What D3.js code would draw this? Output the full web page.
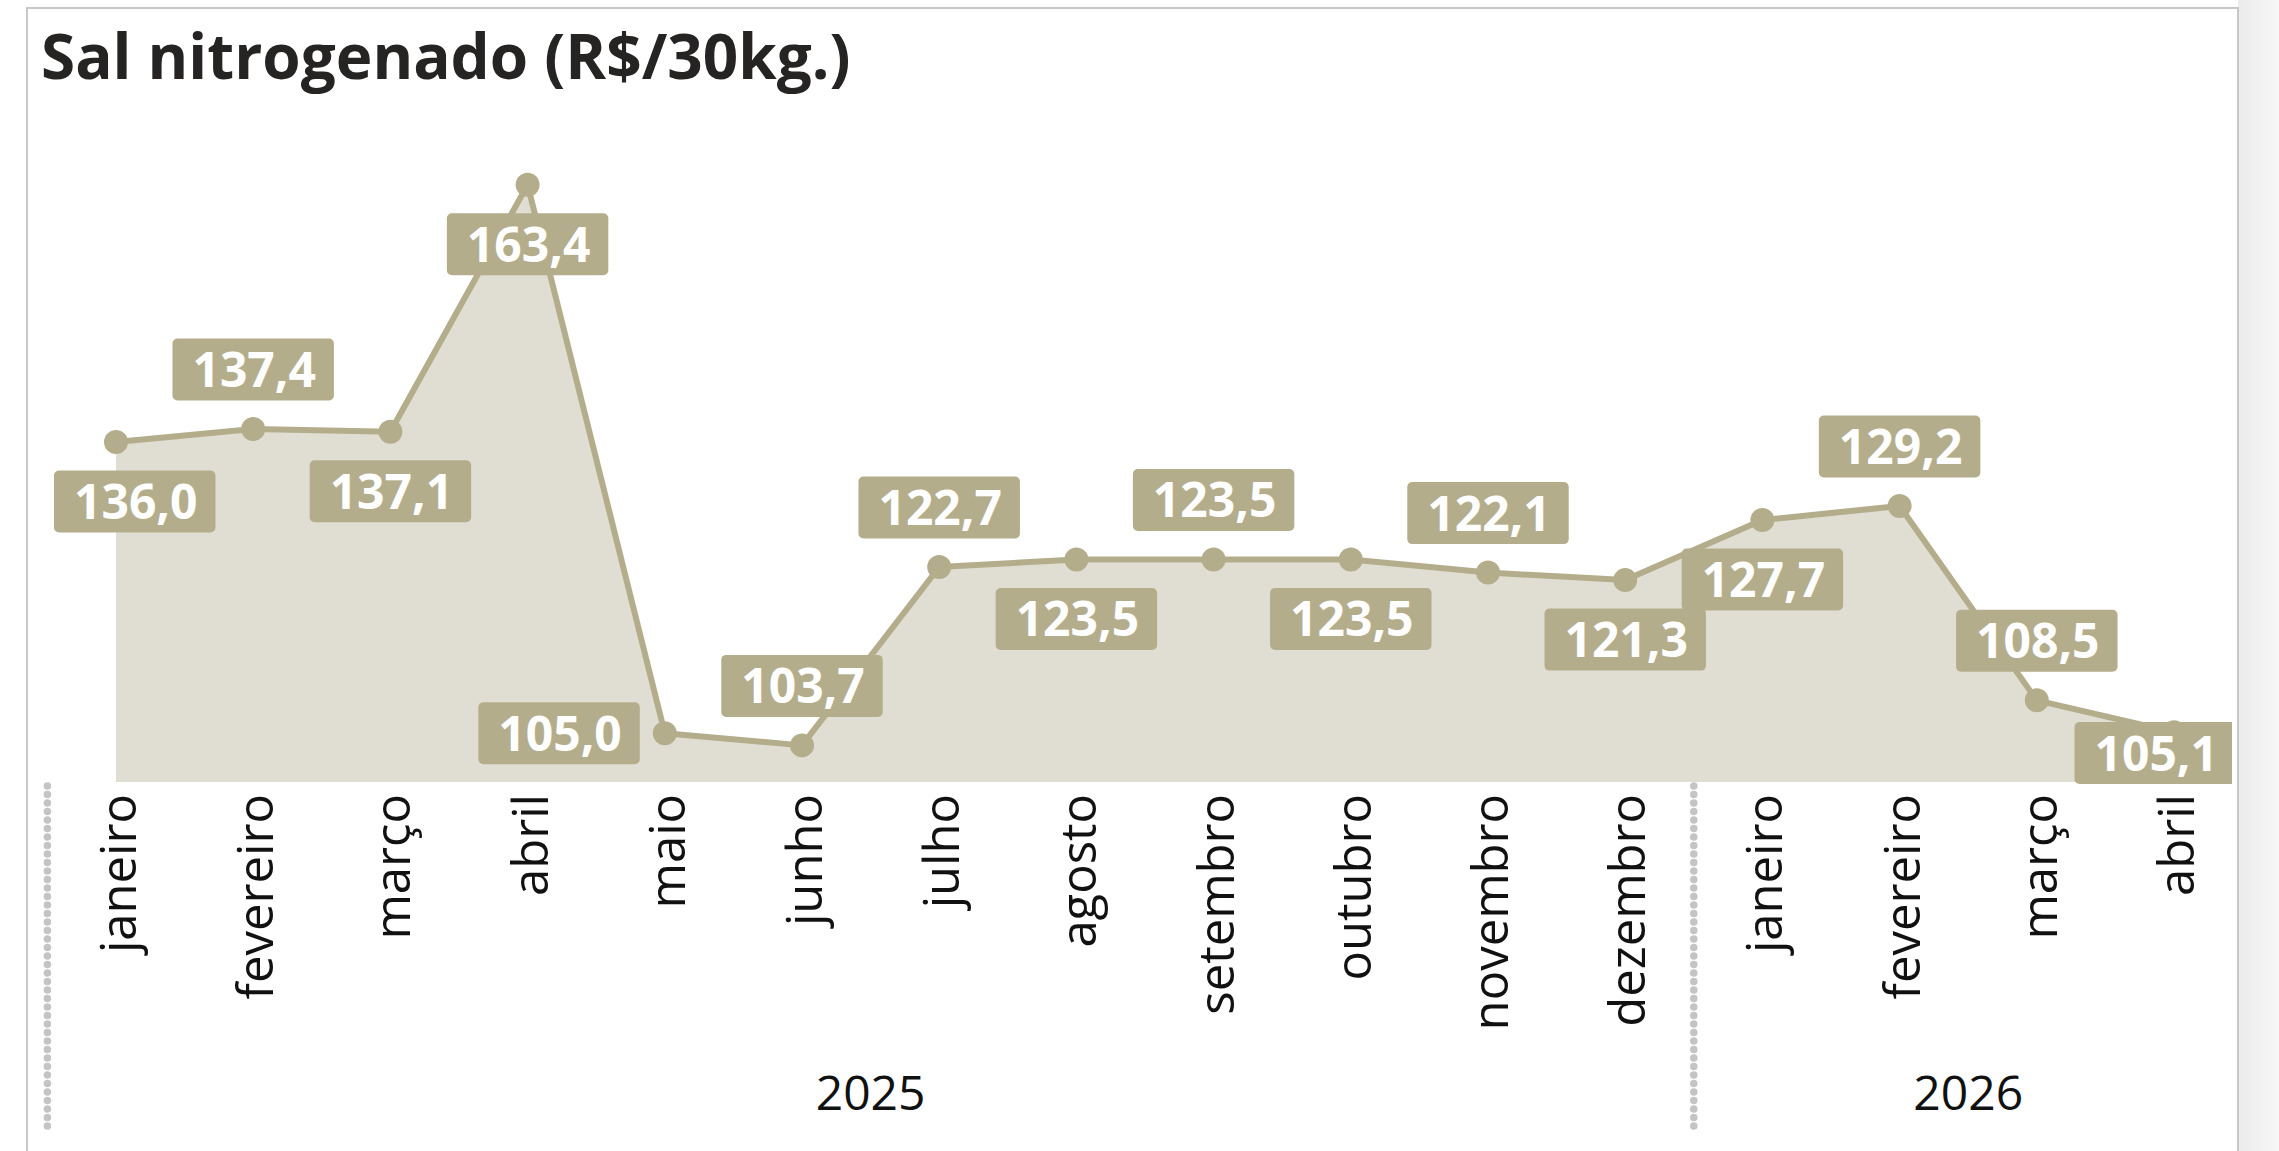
<!DOCTYPE html>
<html lang="pt-BR">
<head>
<meta charset="utf-8">
<title>Sal nitrogenado (R$/30kg.)</title>
<script src="https://cdn.jsdelivr.net/npm/d3@7"></script>
<style>
  html, body { margin: 0; padding: 0; background: #ffffff; }
  svg { display: block; }
</style>
</head>
<body>
<svg id="chart" width="2279" height="1151"></svg>
<script>
// Monthly price series, R$ per 30 kg bag
const months = ["janeiro", "fevereiro", "março", "abril", "maio", "junho", "julho", "agosto",
                "setembro", "outubro", "novembro", "dezembro", "janeiro", "fevereiro", "março", "abril"];
const years = ["2025", "2025", "2025", "2025", "2025", "2025", "2025", "2025",
               "2025", "2025", "2025", "2025", "2026", "2026", "2026", "2026"];
const prices = [136.0, 137.4, 137.1, 163.4, 105.0, 103.7, 122.7, 123.5,
                123.5, 123.5, 122.1, 121.3, 127.7, 129.2, 108.5, 105.1];
const yearLabels = ["2025", "2026"];
const chartTitle = "Sal nitrogenado (R$/30kg.)";

// ---- layout ----
const W = 2279, H = 1151;
const panel = { left: 27, top: 8, right: 2238 };
const plot = { left: 47.4, right: 2242.6, top: 184.8, bottom: 782, labelLeft: 54, clipRight: 2232 };
const colors = {
  line: "#b4ad8c",
  area: "#e0ded2",
  border: "#c8c8c8",
  text: "#111111",
  title: "#252423"
};

const ptBR = d3.formatLocale({ decimal: ",", thousands: ".", grouping: [3], currency: ["R$", ""] });
const fmt = ptBR.format(".1f");

const svg = d3.select("#chart");

// right-hand page shadow beyond the panel
const defs = svg.append("defs");
const grad = defs.append("linearGradient").attr("id", "sideShade").attr("x1", 0).attr("x2", 1);
grad.append("stop").attr("offset", 0).attr("stop-color", "#ebebeb");
grad.append("stop").attr("offset", 1).attr("stop-color", "#f7f7f7");
defs.append("clipPath").attr("id", "plotClip")
  .append("rect").attr("x", 0).attr("y", 0).attr("width", plot.clipRight).attr("height", H);

svg.append("rect").attr("x", panel.right).attr("y", 0)
  .attr("width", W - panel.right).attr("height", H).attr("fill", "url(#sideShade)");

// panel frame
svg.append("rect").attr("x", panel.left).attr("y", panel.top)
  .attr("width", panel.right - panel.left).attr("height", H + 10)
  .attr("fill", "#ffffff").attr("stroke", colors.border).attr("stroke-width", 2);

// title
svg.append("text")
  .attr("x", 41).attr("y", 79)
  .attr("font-family", "'Open Sans', 'Noto Sans', sans-serif")
  .attr("font-weight", 700).attr("font-size", 62)
  .attr("fill", colors.title)
  .text(chartTitle);

// ---- scales ----
const idx = d3.range(prices.length);
const x = d3.scaleBand().domain(idx).range([plot.left, plot.right]).paddingInner(0).paddingOuter(0);
const cx = i => x(i) + x.bandwidth() / 2;
const y = d3.scaleLinear().domain([99.8, 163.4]).range([plot.bottom, plot.top]);

const g = svg.append("g");

// area under the series
const area = d3.area().x((d, i) => cx(i)).y0(plot.bottom).y1(d => y(d));
g.append("path").datum(prices).attr("d", area).attr("fill", colors.area);

// line and markers
const line = d3.line().x((d, i) => cx(i)).y(d => y(d));
g.append("path").datum(prices).attr("d", line)
  .attr("fill", "none").attr("stroke", colors.line)
  .attr("stroke-width", 6).attr("stroke-linejoin", "round");

g.selectAll("circle.pt").data(prices).join("circle")
  .attr("class", "pt")
  .attr("cx", (d, i) => cx(i)).attr("cy", d => y(d))
  .attr("r", 12).attr("fill", colors.line);

// ---- data labels ----
// side of each label relative to its marker
const labelSide = ["below", "above", "below", "below", "left", "above", "above", "below",
                   "above", "below", "above", "below", "below", "above", "above", "below"];
const boxH = 62, gap = 28.5, padX = 19;

const labels = g.append("g").attr("clip-path", "url(#plotClip)");
prices.forEach((v, i) => {
  const px = cx(i), py = y(v);
  const lg = labels.append("g");
  const rect = lg.append("rect").attr("rx", 5).attr("ry", 5).attr("fill", colors.line);
  const t = lg.append("text")
    .attr("font-family", "'Open Sans', 'Noto Sans', sans-serif")
    .attr("font-weight", 700).attr("font-size", 48)
    .attr("fill", "#ffffff").attr("text-anchor", "middle")
    .text(fmt(v));
  const tw = t.node().getComputedTextLength();
  const bw = tw + 2 * padX;
  let bx, by;
  const side = labelSide[i];
  if (side === "above") { bx = px - bw / 2; by = py - gap - boxH; }
  else if (side === "below") { bx = px - bw / 2; by = py + gap; }
  else { bx = px - 25 - bw; by = py - boxH / 2; }
  // keep labels inside the plot area
  if (by + boxH > plot.bottom + 2) by = plot.bottom + 2 - boxH;
  if (bx < plot.labelLeft) bx = plot.labelLeft;
  if (bx + bw > plot.clipRight + 4) bx = plot.clipRight + 4 - bw;
  rect.attr("x", bx).attr("y", by).attr("width", bw).attr("height", boxH);
  t.attr("x", bx + bw / 2 + 1).attr("y", by + 48.5);
});

// ---- category axis ----
const axisG = svg.append("g");
axisG.selectAll("text.month").data(months).join("text")
  .attr("class", "month")
  .attr("transform", (d, i) => `translate(${cx(i) + 20},794) rotate(-90)`)
  .attr("text-anchor", "end")
  .attr("font-family", "'Open Sans', 'Noto Sans', sans-serif")
  .attr("font-size", 49)
  .attr("fill", colors.text)
  .text(d => d);

// year groups and dotted separators
const groups = yearLabels.map(yr => {
  const ids = idx.filter(i => years[i] === yr);
  return { yr, first: d3.min(ids), last: d3.max(ids) };
});
axisG.selectAll("text.year").data(groups).join("text")
  .attr("class", "year")
  .attr("x", d => (cx(d.first) + cx(d.last)) / 2)
  .attr("y", 1110)
  .attr("text-anchor", "middle")
  .attr("font-family", "'Open Sans', 'Noto Sans', sans-serif")
  .attr("font-size", 48)
  .attr("fill", colors.text)
  .text(d => d.yr);

axisG.selectAll("line.sep").data(groups).join("line")
  .attr("class", "sep")
  .attr("x1", d => x(d.first)).attr("x2", d => x(d.first))
  .attr("y1", 786).attr("y2", 1134)
  .attr("stroke", "#c4c4c4").attr("stroke-width", 7.5)
  .attr("stroke-linecap", "round").attr("stroke-dasharray", "0 8.5");
</script>
</body>
</html>
